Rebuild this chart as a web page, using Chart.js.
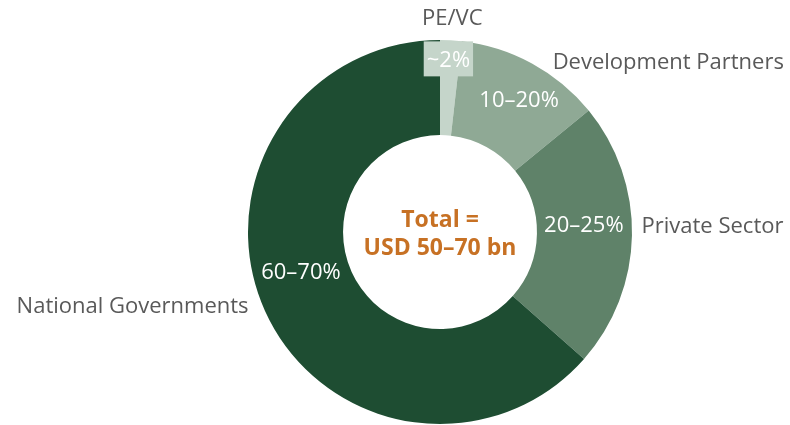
<!DOCTYPE html>
<html>
<head>
<meta charset="utf-8">
<script src="https://cdn.jsdelivr.net/npm/chart.js@4"></script>
<style>
  html, body { margin: 0; padding: 0; background: #fff; }
  #wrap { width: 790px; height: 425px; }
</style>
</head>
<body>
<div id="wrap"><canvas id="myChart" width="790" height="425"></canvas></div>
<script>
const ctx = document.getElementById("myChart")

const labels = ['PE/VC', 'Development Partners', 'Private Sector', 'National Governments']
const shares = [1.8, 12.3, 22.4, 63.5]
const rangeLabels = ['~2%', '10–20%', '20–25%', '60–70%']
const colors = ['#c5d5ca', '#8fa995', '#5f8269', '#1e4d32']
const centerLines = ['Total =', 'USD 50–70 bn']

// where labels sit: angle from 12 o'clock (deg) and radius as a share of outer radius
const catPos = [
  { deg: 3.3, r: 1.11, align: 'center' },
  { deg: 33.6, r: 1.06, align: 'left' },
  { deg: 88.6, r: 1.05, align: 'left' },
  { deg: 248.7, r: 1.07, align: 'right' },
]
const valPos = [
  { deg: 2.8, r: 0.895, box: true },
  { deg: 31, r: 0.80 },
  { deg: 87.6, r: 0.75 },
  { deg: 253.6, r: 0.755 },
]

const labelPlugin = {
  id: 'labelPlugin',
  afterDatasetsDraw(chart) {
    const c = chart.ctx
    const arcs = chart.getDatasetMeta(0).data
    const cx = arcs[0].x, cy = arcs[0].y, R = arcs[0].outerRadius
    const pt = (deg, r) => {
      const a = deg * Math.PI / 180
      return [cx + Math.sin(a) * R * r, cy - Math.cos(a) * R * r]
    }
    c.save()
    c.textBaseline = 'middle'
    c.font = '22px "Open Sans", sans-serif'

    rangeLabels.forEach((t, i) => {
      const [x, y] = pt(valPos[i].deg, valPos[i].r)
      if (valPos[i].box) {
        c.fillStyle = colors[i]
        const w = c.measureText(t).width + 6
        c.fillRect(x - w / 2, y - 19, w, 35)
      }
      c.fillStyle = '#ffffff'
      c.textAlign = 'center'
      c.fillText(t, x, y)
    })

    c.fillStyle = '#595959'
    labels.forEach((t, i) => {
      const [x, y] = pt(catPos[i].deg, catPos[i].r)
      c.textAlign = catPos[i].align
      c.fillText(t, x, y)
    })

    c.fillStyle = '#c77124'
    c.font = 'bold 23px "Open Sans", sans-serif'
    c.textAlign = 'center'
    c.fillText(centerLines[0], cx, cy - 12)
    c.fillText(centerLines[1], cx, cy + 16)
    c.restore()
  }
}

const data = {
  labels,
  datasets: [{
    data: shares,
    backgroundColor: colors,
    borderWidth: 0,
  }]
}

const config = {
  type: 'doughnut',
  data: data,
  options: {
    responsive: false,
    animation: false,
    cutout: '50.5%',
    layout: { padding: { left: 90, right: 0, top: 40, bottom: 1 } },
    plugins: {
      legend: { display: false },
      tooltip: { enabled: false },
    }
  },
  plugins: [labelPlugin],
}

const myChart = new Chart(ctx, config)
</script>
</body>
</html>
